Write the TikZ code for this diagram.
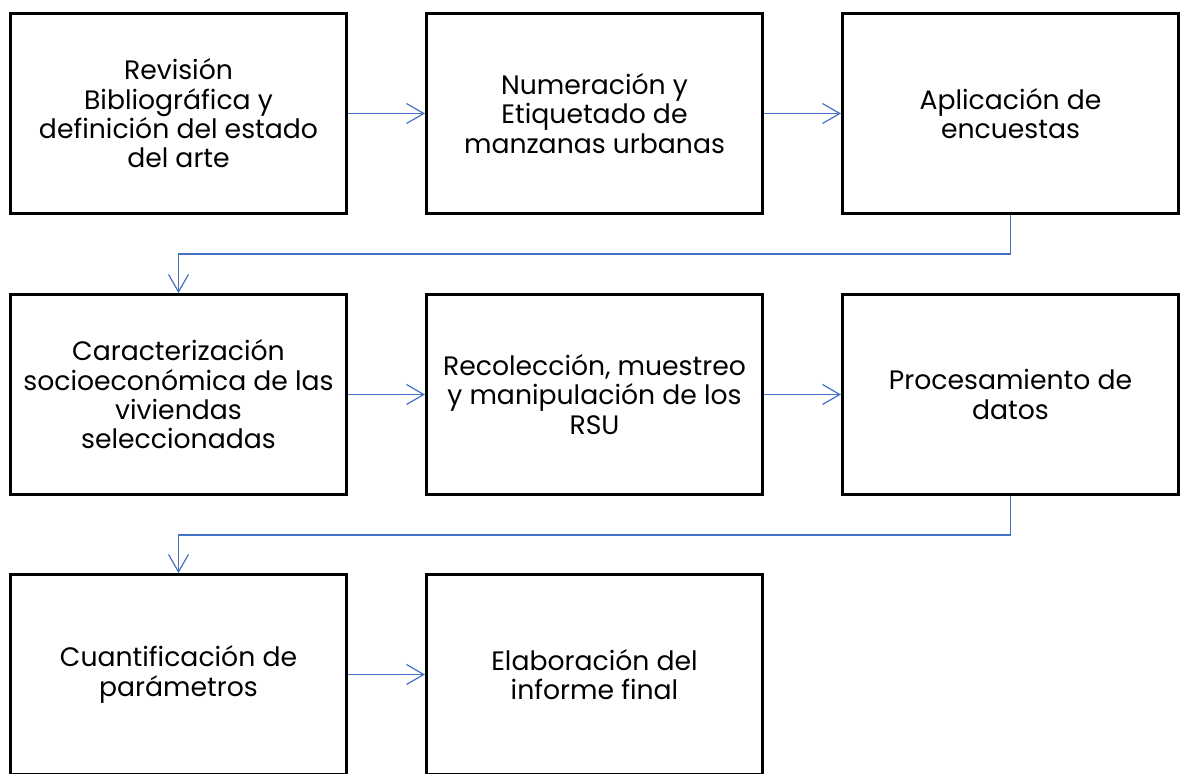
\documentclass[tikz,border=0pt]{standalone}
\usepackage{fontspec}
\setmainfont{Poppins}
\usetikzlibrary{arrows.meta}
\definecolor{azul}{HTML}{4472C4}

\begin{document}
\begin{tikzpicture}[x=0.75pt,y=-0.75pt,
  caja/.style={draw=black,line width=2.25pt,minimum width=252pt,minimum height=150pt,
    align=center,inner sep=0pt,font=\fontsize{20}{22}\selectfont},
  flecha/.style={draw=azul,line width=0.9pt,-{Straight Barb[length=13pt,width=15pt]}}]
\useasboundingbox (0,0) rectangle (1182,774);
% fila 1
\node[caja] (revision) at (178.5,113.5) {Revisión\\Bibliográfica y\\definición del estado\\del arte};
\node[caja] (numeracion) at (594.5,113.5) {Numeración y\\Etiquetado de\\manzanas urbanas};
\node[caja] (encuestas) at (1010.5,113.5) {Aplicación de\\encuestas};
% fila 2
\node[caja] (caracterizacion) at (178.5,394.5) {Caracterización\\socioeconómica de las\\viviendas\\seleccionadas};
\node[caja] (recoleccion) at (594.5,394.5) {Recolección, muestreo\\y manipulación de los\\RSU};
\node[caja] (procesamiento) at (1010.5,394.5) {Procesamiento de\\datos};
% fila 3
\node[caja] (cuantificacion) at (178.5,674.5) {Cuantificación de\\parámetros};
\node[caja] (informe) at (594.5,674.5) {Elaboración del\\informe final};
% flechas
\draw[flecha] (revision) -- (numeracion);
\draw[flecha] (numeracion) -- (encuestas);
\draw[flecha] (encuestas.south) -- ++(0,39) -| (caracterizacion.north);
\draw[flecha] (caracterizacion) -- (recoleccion);
\draw[flecha] (recoleccion) -- (procesamiento);
\draw[flecha] (procesamiento.south) -- ++(0,39) -| (cuantificacion.north);
\draw[flecha] (cuantificacion) -- (informe);
\end{tikzpicture}
\end{document}
